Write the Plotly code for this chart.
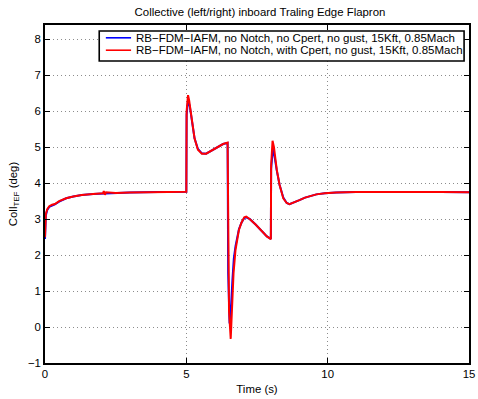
import plotly.graph_objects as go

# Time history of the collective inboard trailing-edge flapron command
t_blue = [0.00, 0.03, 0.08, 0.15, 0.25, 0.35, 0.50, 0.75, 1.00, 1.30, 1.70, 2.10, 2.50, 3.00, 4.00,
          5.00, 5.01, 5.06, 5.12, 5.18, 5.29, 5.41, 5.55, 5.70, 5.87, 6.00, 6.16, 6.30, 6.46,
          6.48, 6.53, 6.58, 6.63, 6.68, 6.74, 6.80, 6.86, 6.95, 7.05, 7.12, 7.25, 7.45, 7.65, 7.85, 7.99,
          8.00, 8.06, 8.12, 8.20, 8.30, 8.43, 8.55, 8.65, 8.80, 9.00, 9.20, 9.40, 9.60, 9.90, 10.30,
          11.0, 12.0, 13.0, 14.0, 15.0]
v_blue = [2.45, 3.10, 3.26, 3.34, 3.38, 3.41, 3.49, 3.58, 3.63, 3.67, 3.70, 3.72, 3.73, 3.745, 3.755,
          3.76, 5.90, 6.30, 6.15, 5.80, 5.25, 4.95, 4.83, 4.82, 4.90, 4.96, 5.04, 5.09, 5.12,
          1.50, 0.10, 0.55, 1.30, 1.90, 2.25, 2.50, 2.72, 2.90, 3.03, 3.05, 3.00, 2.85, 2.67, 2.52, 2.45,
          4.40, 4.95, 4.75, 4.35, 3.95, 3.60, 3.45, 3.42, 3.46, 3.53, 3.60, 3.65, 3.69, 3.72, 3.745,
          3.755, 3.76, 3.76, 3.755, 3.75]

t_red = [0.00, 0.03, 0.08, 0.15, 0.25, 0.35, 0.50, 0.75, 1.00, 1.30, 1.70, 2.05, 2.08, 2.12, 2.16,
         2.50, 3.00, 4.00, 5.00, 5.01, 5.06, 5.10, 5.17, 5.29, 5.41, 5.55, 5.70, 5.87, 6.00, 6.16,
         6.30, 6.46, 6.48, 6.51, 6.57, 6.62, 6.67, 6.74, 6.80, 6.86, 6.95, 7.05, 7.12, 7.25, 7.45,
         7.65, 7.85, 7.99, 8.00, 8.05, 8.10, 8.20, 8.30, 8.43, 8.55, 8.65, 8.80, 9.00, 9.20, 9.40,
         9.60, 9.90, 10.30, 11.0, 12.0, 13.0, 14.0, 15.0]
v_red = [2.50, 3.15, 3.28, 3.36, 3.40, 3.42, 3.50, 3.58, 3.63, 3.67, 3.70, 3.72, 3.78, 3.68, 3.75,
         3.73, 3.745, 3.755, 3.76, 6.00, 6.45, 6.30, 5.85, 5.25, 4.93, 4.82, 4.82, 4.90, 4.96, 5.04,
         5.09, 5.13, 2.00, 0.45, -0.33, 0.67, 1.50, 2.15, 2.45, 2.70, 2.90, 3.05, 3.07, 3.00, 2.85,
         2.67, 2.52, 2.44, 4.50, 5.18, 5.00, 4.37, 3.95, 3.58, 3.45, 3.42, 3.46, 3.53, 3.60, 3.65,
         3.69, 3.72, 3.745, 3.755, 3.76, 3.76, 3.755, 3.75]

name_blue = "RB\u2212FDM\u2212IAFM, no Notch, no Cpert, no gust, 15Kft, 0.85Mach"
name_red = "RB\u2212FDM\u2212IAFM, no Notch, with Cpert, no gust, 15Kft, 0.85Mach"

x_ticks = [0, 5, 10, 15]
y_ticks = [-1, 0, 1, 2, 3, 4, 5, 6, 7, 8]
y_labels = ["\u22121", "0", "1", "2", "3", "4", "5", "6", "7", "8"]

series = [(t_blue, v_blue, name_blue, "#0000ff"),
          (t_red, v_red, name_red, "#ff0000")]

fig = go.Figure()
for t, v, name, color in series:
    fig.add_trace(go.Scatter(x=t, y=v, mode="lines", name=name, showlegend=False,
                             line=dict(color=color, width=2)))

FAMILY = "Liberation Sans, Arial, sans-serif"
font = dict(family=FAMILY, size=11.4, color="#000")
axis_common = dict(
    showline=True, linecolor="#000", linewidth=1.6, mirror="ticks",
    ticks="inside", ticklen=5, tickcolor="#000", tickwidth=1,
    showgrid=True, gridcolor="#8c8c8c", griddash="1px,3px", gridwidth=1,
    zeroline=False, tickfont=font, ticklabeloverflow="allow",
)

# Compact boxed legend in the upper part of the axes (paper coordinates)
box_x0, box_x1, box_y0, box_y1 = 0.1279, 0.9884, 0.8935, 0.9822
sample_x0, sample_x1, text_x = 0.1435, 0.2030, 0.2116
row_y = [0.9621, 0.9254]

shapes = [dict(type="rect", xref="paper", yref="paper", x0=box_x0, x1=box_x1,
               y0=box_y0, y1=box_y1, fillcolor="white",
               line=dict(color="#000", width=1.6), layer="above")]
annotations = []
for (t, v, name, color), y in zip(series, row_y):
    shapes.append(dict(type="line", xref="paper", yref="paper", x0=sample_x0, x1=sample_x1,
                       y0=y, y1=y, line=dict(color=color, width=1.6), layer="above"))
    annotations.append(dict(text=name, xref="paper", yref="paper", x=text_x, y=y,
                            xanchor="left", yanchor="middle", showarrow=False, borderpad=0,
                            font=dict(family=FAMILY, size=11.5, color="#000")))

fig.update_layout(
    width=478, height=399,
    margin=dict(l=45, r=3, t=25, b=36),
    paper_bgcolor="white", plot_bgcolor="white",
    font=font,
    title=dict(text="Collective (left/right) inboard Traling Edge Flapron",
               x=0.5439, xanchor="center", y=0.97, yanchor="middle",
               font=dict(size=11.4, family=FAMILY)),
    xaxis=dict(range=[0, 15], tickvals=x_ticks, ticktext=[str(v) for v in x_ticks],
               title=dict(text="Time (s)", standoff=6, font=font), **axis_common),
    yaxis=dict(range=[-1, 8.4], tickvals=y_ticks, ticktext=y_labels,
               title=dict(text="Coll<sub>TEF</sub> (deg)", standoff=8, font=font), **axis_common),
    shapes=shapes,
    annotations=annotations,
    showlegend=False,
)

fig.write_html("out.html")
